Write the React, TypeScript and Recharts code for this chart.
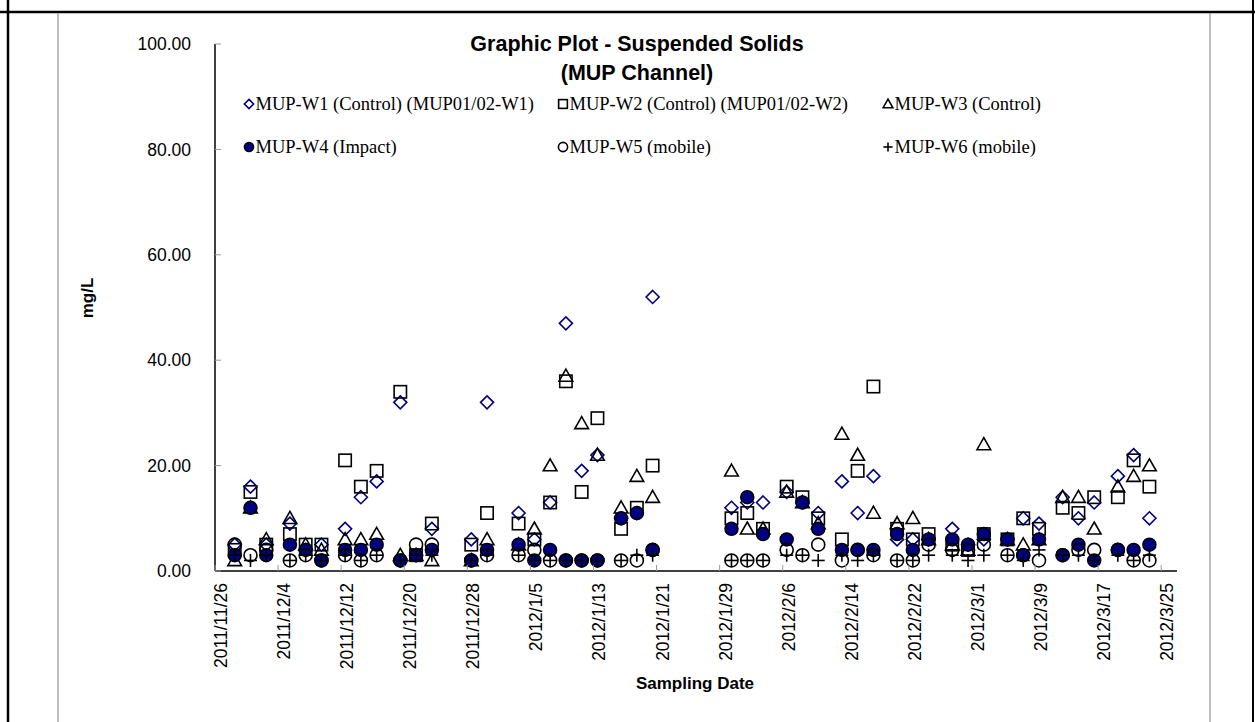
import React from 'react';
import { ScatterChart, Scatter, XAxis, YAxis } from 'recharts';

const sampleDates = [
  "2011/11/28","2011/11/30","2011/12/2","2011/12/5","2011/12/7","2011/12/9","2011/12/12","2011/12/14","2011/12/16","2011/12/19",
  "2011/12/21","2011/12/23","2011/12/28","2011/12/30","2012/1/3","2012/1/5","2012/1/7","2012/1/9","2012/1/11","2012/1/13",
  "2012/1/16","2012/1/18","2012/1/20","2012/1/30","2012/2/1","2012/2/3","2012/2/6","2012/2/8","2012/2/10","2012/2/13",
  "2012/2/15","2012/2/17","2012/2/20","2012/2/22","2012/2/24","2012/2/27","2012/2/29","2012/3/2","2012/3/5","2012/3/7",
  "2012/3/9","2012/3/12","2012/3/14","2012/3/16","2012/3/19","2012/3/21","2012/3/23"
];

const w1Values = [5,16,5,9,4,5,8,14,17,32,3,8,6,32,11,6,13,47,19,22,10,11,52,12,13,13,15,13,11,17,11,18,6,6,6,8,5,6,6,10,9,14,10,13,18,22,10];
const w2Values = [4,15,5,7,5,5,21,16,19,34,3,9,5,11,9,6,13,36,15,29,8,12,20,10,11,8,16,14,10,6,19,35,8,6,7,5,4,7,6,10,8,12,11,14,14,21,16];
const w3Values = [2,12,6,10,5,4,6,6,7,3,3,2,2,6,5,8,20,37,28,22,12,18,14,19,8,8,15,13,9,26,22,11,9,10,6,5,4,24,6,5,6,14,14,8,16,18,20];
const w4Values = [3,12,3,5,4,2,4,4,5,2,3,4,2,4,5,2,4,2,2,2,10,11,4,8,14,7,6,13,8,4,4,4,7,4,6,6,5,7,6,3,6,3,5,2,4,4,5];
const w5Values = [5,3,4,2,3,2,3,2,3,2,5,5,2,3,3,4,2,2,2,2,2,2,4,2,2,2,4,3,5,2,4,3,2,2,5,4,4,5,3,3,2,3,4,4,4,2,2];
const w6Values = [3,2,3,2,3,2,3,2,3,2,3,3,2,3,3,2,2,2,2,2,2,3,3,2,2,2,3,3,2,3,2,3,2,2,3,3,2,3,3,2,4,3,3,2,3,2,3];

const seriesNames = [
  "MUP-W1 (Control) (MUP01/02-W1)",
  "MUP-W2 (Control) (MUP01/02-W2)",
  "MUP-W3 (Control)",
  "MUP-W4 (Impact)",
  "MUP-W5 (mobile)",
  "MUP-W6 (mobile)",
];
const seriesKinds = ["diamond", "square", "triangle", "filled", "circle", "plus"];
const seriesValues = [w1Values, w2Values, w3Values, w4Values, w5Values, w6Values];

const xTickLabels = [
  "2011/11/26","2011/12/4","2011/12/12","2011/12/20","2011/12/28","2012/1/5","2012/1/13","2012/1/21",
  "2012/1/29","2012/2/6","2012/2/14","2012/2/22","2012/3/1","2012/3/9","2012/3/17","2012/3/25"
];
const yTicks = [0, 20, 40, 60, 80, 100];

const dayOf = (s: string) => {
  const [y, m, d] = s.split('/').map(Number);
  const [by, bm, bd] = xTickLabels[0].split('/').map(Number);
  return Math.round((Date.UTC(y, m - 1, d) - Date.UTC(by, bm - 1, bd)) / 86400000);
};
const xTickValues = xTickLabels.map(dayOf);
const xMax = xTickValues[xTickValues.length - 1] + 2;

const seriesData = seriesValues.map((vals) =>
  vals.map((v, i) => ({ x: dayOf(sampleDates[i]) + 0.5, y: v }))
);

const NAVY = '#000080';

function drawMarker(kind: string, cx: number, cy: number, s: number) {
  const sw = s > 8 ? 2 : 1.6;
  switch (kind) {
    case 'diamond':
      return <polygon points={`${cx},${cy - s} ${cx + s},${cy} ${cx},${cy + s} ${cx - s},${cy}`} fill="none" stroke={NAVY} strokeWidth={sw} />;
    case 'square':
      return <rect x={cx - s * 0.95} y={cy - s * 0.95} width={s * 1.9} height={s * 1.9} fill="none" stroke="#000" strokeWidth={sw} />;
    case 'triangle':
      return <polygon points={`${cx},${cy - s * 1.05} ${cx + s * 1.05},${cy + s * 0.8} ${cx - s * 1.05},${cy + s * 0.8}`} fill="none" stroke="#000" strokeWidth={sw} />;
    case 'filled':
      return <circle cx={cx} cy={cy} r={s} fill={NAVY} stroke="#000" strokeWidth={1.5} />;
    case 'circle':
      return <circle cx={cx} cy={cy} r={s} fill="none" stroke="#000" strokeWidth={sw} />;
    default:
      return (
        <g stroke="#000" strokeWidth={sw}>
          <line x1={cx - s} y1={cy} x2={cx + s} y2={cy} />
          <line x1={cx} y1={cy - s} x2={cx} y2={cy + s} />
        </g>
      );
  }
}

const makeShape = (kind: string) => (props: any) => {
  const { cx, cy } = props;
  if (cx == null || cy == null) return <g />;
  return <g>{drawMarker(kind, cx, cy, 6.5)}</g>;
};

const YTick = (props: any) => {
  const { x, y, payload } = props;
  return (
    <g>
      <line x1={x} y1={y} x2={x + 6} y2={y} stroke="#999" strokeWidth={1} />
      <text x={x - 24} y={y} dy="0.35em" textAnchor="end" fontFamily="'Liberation Sans', Arial, sans-serif" fontSize={17.5} fill="#000">
        {Number(payload.value).toFixed(2)}
      </text>
    </g>
  );
};

const XTick = (props: any) => {
  const { x, y, payload, index } = props;
  const idx = xTickValues.indexOf(payload.value);
  const label = idx >= 0 ? xTickLabels[idx] : xTickLabels[index];
  const tx = x + 12;
  const ty = y + 12;
  return (
    <g>
      <line x1={x} y1={y} x2={x} y2={y - 6} stroke="#999" strokeWidth={1} />
      <text x={tx} y={ty} transform={`rotate(-90, ${tx}, ${ty})`} textAnchor="end" fontFamily="'Liberation Sans', Arial, sans-serif" fontSize={17.5} fill="#000">
        {label}
      </text>
    </g>
  );
};

const legendPos = [
  { x: 249, y: 104 }, { x: 563, y: 104 }, { x: 888, y: 104 },
  { x: 249, y: 147 }, { x: 563, y: 147 }, { x: 888, y: 147 },
];

export default function App() {
  return (
    <div style={{ position: 'absolute', left: 0, top: 0, width: 1255, height: 722, background: '#fff' }}>
      <div style={{ position: 'absolute', left: 0, top: 0 }}>
        <ScatterChart width={1255} height={722} margin={{ top: 44, right: 78, bottom: 51, left: 155 }}>
          <XAxis
            type="number"
            dataKey="x"
            domain={[0, xMax]}
            ticks={xTickValues}
            interval={0}
            height={100}
            tickSize={0}
            tickMargin={0}
            tickLine={false}
            axisLine={{ stroke: '#000', strokeWidth: 1.5 }}
            tick={<XTick />}
            allowDataOverflow
          />
          <YAxis
            type="number"
            dataKey="y"
            domain={[0, 100]}
            ticks={yTicks}
            interval={0}
            width={60}
            tickSize={0}
            tickMargin={0}
            tickLine={false}
            axisLine={{ stroke: '#000', strokeWidth: 1.5 }}
            tick={<YTick />}
            allowDataOverflow
          />
          {seriesData.map((d, i) => (
            <Scatter
              key={seriesNames[i]}
              name={seriesNames[i]}
              data={d}
              shape={makeShape(seriesKinds[i])}
              isAnimationActive={false}
            />
          ))}
        </ScatterChart>
      </div>
      <svg width={1255} height={722} style={{ position: 'absolute', left: 0, top: 0, pointerEvents: 'none' }}>
        {/* frame */}
        <line x1={0} y1={12} x2={1255} y2={12} stroke="#000" strokeWidth={2.5} />
        <line x1={8} y1={0} x2={8} y2={722} stroke="#000" strokeWidth={2.5} />
        <line x1={1253} y1={0} x2={1253} y2={722} stroke="#000" strokeWidth={2} />
        <line x1={58} y1={13} x2={58} y2={722} stroke="#a6a6a6" strokeWidth={1.5} />
        <line x1={1210} y1={13} x2={1210} y2={722} stroke="#808080" strokeWidth={1} />
        {/* title */}
        <text x={637} y={51} textAnchor="middle" fontFamily="'Liberation Sans', Arial, sans-serif" fontWeight="bold" fontSize={21.5}>Graphic Plot - Suspended Solids</text>
        <text x={637} y={80} textAnchor="middle" fontFamily="'Liberation Sans', Arial, sans-serif" fontWeight="bold" fontSize={21.5}>(MUP Channel)</text>
        {/* legend */}
        {seriesNames.map((name, i) => (
          <g key={name}>
            {drawMarker(seriesKinds[i], legendPos[i].x, legendPos[i].y, 4.6)}
            <text x={legendPos[i].x + 6.5} y={legendPos[i].y} dy="0.35em" fontFamily="'Liberation Serif', 'Times New Roman', serif" fontSize={18.5}>{name}</text>
          </g>
        ))}
        {/* axis titles */}
        <text x={93} y={298} transform="rotate(-90, 93, 298)" textAnchor="middle" fontFamily="'Liberation Sans', Arial, sans-serif" fontWeight="bold" fontSize={17}>mg/L</text>
        <text x={695} y={689} textAnchor="middle" fontFamily="'Liberation Sans', Arial, sans-serif" fontWeight="bold" fontSize={17}>Sampling Date</text>
      </svg>
    </div>
  );
}
